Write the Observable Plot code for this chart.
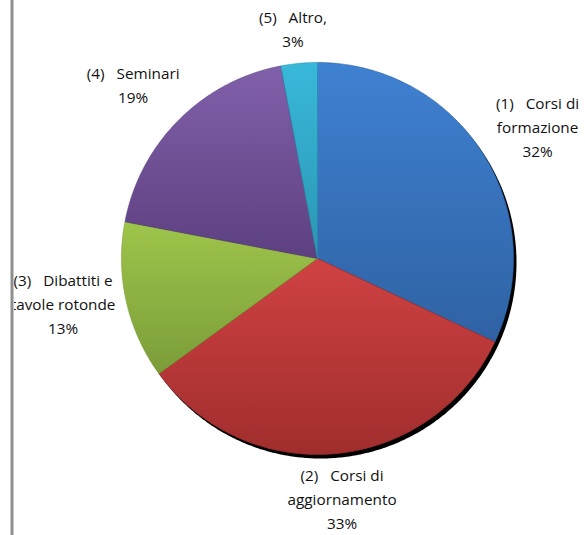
<!DOCTYPE html>
<html>
<head>
<meta charset="utf-8">
<script src="https://cdn.jsdelivr.net/npm/d3@7"></script>
<script src="https://cdn.jsdelivr.net/npm/@observablehq/plot@0.6"></script>
<style>
  html, body { margin: 0; padding: 0; background: #fff; }
  #chart svg { display: block; }
</style>
</head>
<body>
<div id="chart"></div>
<script>
// ---- data ----
const labels = ["(1)   Corsi di\nformazione", "(2)   Corsi di\naggiornamento", "(3)   Dibattiti e\ntavole rotonde", "(4)   Seminari", "(5)   Altro,"];
const values = [32, 33, 13, 19, 3];
const topColors = ["#3f81d2", "#d04242", "#9ec54b", "#8160aa", "#39b8da"];
const bottomColors = ["#2f62a3", "#a02d2d", "#7b9c39", "#5d4080", "#2a96b3"];

// ---- layout ----
const W = 585, H = 535;
const cx = 317, cy = 258, R = 196;
const labelLift = [5, -1, 8, 6, -7]; // pixel lift of each label block (layout only)

const pie = d3.pie().sort(null).value(d => d)(values);
const total = d3.sum(values);

// build slice outlines (unit coordinates, angle 0 at top, clockwise)
function slicePoints(a0, a1, key) {
  const pts = [{key, x: 0, y: 0}];
  const n = Math.max(2, Math.ceil((a1 - a0) / 0.01));
  for (let i = 0; i <= n; i++) {
    const a = a0 + (a1 - a0) * i / n;
    pts.push({key, x: Math.sin(a), y: Math.cos(a)});
  }
  pts.push({key, x: 0, y: 0});
  return pts;
}
const slices = pie.map((p, i) => slicePoints(p.startAngle, p.endAngle, i));
const shadow = slicePoints(0, 2 * Math.PI, "s").slice(1, -1);

const labelData = pie.map((p, i) => {
  const a = (p.startAngle + p.endAngle) / 2;
  return {
    text: labels[i] + "\n" + Math.round(values[i] / total * 100) + "%",
    x: 1.33 * Math.sin(a),
    y: 1.22 * Math.cos(a) + labelLift[i] / R
  };
});

// gradient defs mark
function defsMark() {
  const ns = "http://www.w3.org/2000/svg";
  const defs = document.createElementNS(ns, "defs");
  topColors.forEach((c, i) => {
    const g = document.createElementNS(ns, "linearGradient");
    g.setAttribute("id", "g" + i);
    g.setAttribute("x1", "0"); g.setAttribute("y1", "0");
    g.setAttribute("x2", "0"); g.setAttribute("y2", "1");
    const s0 = document.createElementNS(ns, "stop");
    s0.setAttribute("offset", "0"); s0.setAttribute("stop-color", c);
    const s1 = document.createElementNS(ns, "stop");
    s1.setAttribute("offset", "1"); s1.setAttribute("stop-color", bottomColors[i]);
    g.appendChild(s0); g.appendChild(s1);
    defs.appendChild(g);
  });
  return defs;
}

const sliceMarks = slices.map((pts, i) =>
  Plot.line(pts, {x: "x", y: "y", fill: `url(#g${i})`, stroke: bottomColors[i], strokeWidth: 0.6, curve: "linear"})
);

const chart = Plot.plot({
  width: W,
  height: H,
  margin: 0,
  x: {domain: [-cx / R, (W - cx) / R], range: [0, W], axis: null},
  y: {domain: [-(H - cy) / R, cy / R], range: [H, 0], axis: null},
  style: {background: "#fff", fontFamily: "'Open Sans', Lato, sans-serif"},
  marks: [
    defsMark,
    Plot.line(shadow, {x: "x", y: "y", fill: "#000", stroke: "none", dx: 3, dy: 4, curve: "linear"}),
    ...sliceMarks,
    Plot.text(labelData, {x: "x", y: "y", text: "text", fontSize: 15.3, lineHeight: 1.57, fill: "#111", textAnchor: "middle"}),
    Plot.rect([0], {x1: () => -cx / R, x2: () => -cx / R + 14 / R, y1: () => -(H - cy) / R, y2: () => cy / R, fill: "#fff"}),
    Plot.rect([0], {x1: () => -cx / R + 10.5 / R, x2: () => -cx / R + 13.5 / R, y1: () => -(H - cy) / R, y2: () => cy / R, fill: "#8f8f8f"})
  ]
});
document.getElementById("chart").appendChild(chart);
</script>
</body>
</html>
